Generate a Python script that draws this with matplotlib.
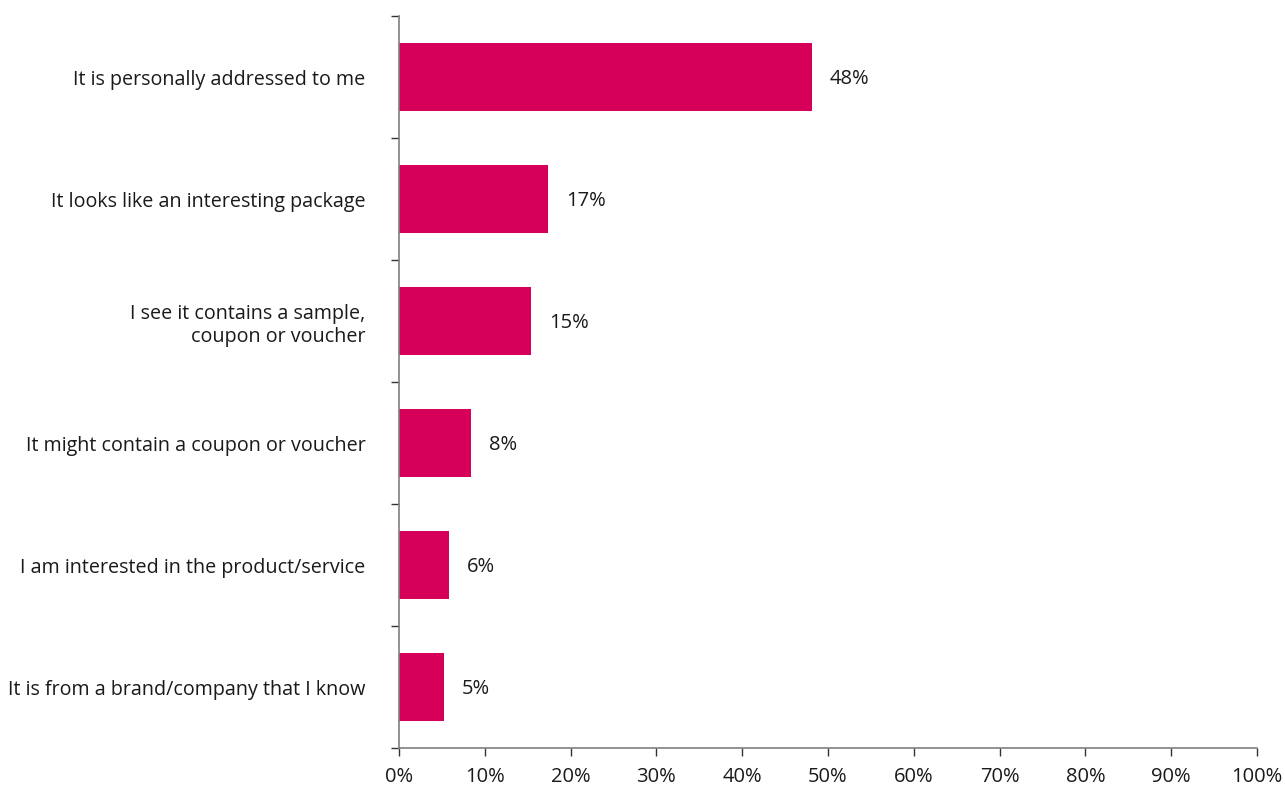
import matplotlib
matplotlib.use("Agg")
import matplotlib.pyplot as plt
from matplotlib.ticker import FixedLocator, PercentFormatter

# Reasons for opening a piece of mail (% of respondents)
reasons = [
    "It is personally addressed to me",
    "It looks like an interesting package",
    "I see it contains a sample,\ncoupon or voucher",
    "It might contain a coupon or voucher",
    "I am interested in the product/service",
    "It is from a brand/company that I know",
]
shares = [48.1, 17.4, 15.4, 8.4, 5.8, 5.2]

BAR = "#D6005B"
plt.rcParams["font.family"] = ["Open Sans", "DejaVu Sans"]

fig = plt.figure(figsize=(12.85, 7.85), dpi=100)
ax = fig.add_axes([0.3105, 0.0471, 0.6677, 0.9325])

ypos = list(range(len(reasons)))
ax.barh(ypos, shares, height=0.56, color=BAR)
for y, v in zip(ypos, shares):
    ax.text(v + 2.1, y + 0.02, f"{v:.0f}%", va="center", ha="left", fontsize=14.5, color="#1a1a1a")

ax.set_xlim(0, 100)
ax.set_ylim(len(reasons) - 0.5, -0.5)
ax.set_xticks(range(0, 101, 10))
ax.xaxis.set_major_formatter(PercentFormatter(decimals=0))
ax.set_yticks(ypos)
ax.set_yticklabels(reasons, fontsize=14.2, color="#1a1a1a", ha="right", multialignment="right")
ax.yaxis.set_minor_locator(FixedLocator([i - 0.5 for i in range(len(reasons) + 1)]))

ax.tick_params(axis="y", which="major", length=0, pad=24)
ax.tick_params(axis="y", which="minor", length=6, width=1, color="#333333")
ax.tick_params(axis="x", length=6, width=1, color="#333333", labelsize=14.5, labelcolor="#1a1a1a", pad=8)

for side in ("top", "right"):
    ax.spines[side].set_visible(False)
ax.spines["left"].set_color("#7f7f7f")
ax.spines["bottom"].set_color("#7f7f7f")
ax.spines["left"].set_linewidth(1.2)
ax.spines["bottom"].set_linewidth(1.2)

fig.savefig("out.png", dpi=100)
